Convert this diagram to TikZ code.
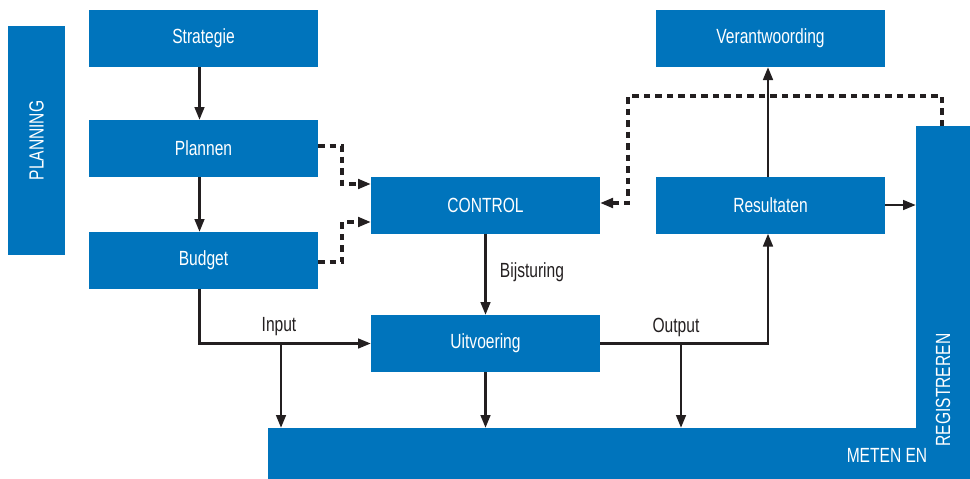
\documentclass[tikz,border=0pt]{standalone}
\usepackage{fontspec}
\setmainfont[FakeStretch=0.76]{Liberation Sans}
\usetikzlibrary{arrows.meta}
\definecolor{boxblue}{RGB}{0,116,188}
\definecolor{ink}{RGB}{35,31,32}
\begin{document}
\begin{tikzpicture}[x=1pt,y=-1pt,
  txt/.style={font=\fontsize{20.5}{22}\selectfont},
  box/.style={txt, fill=boxblue, text=white, inner sep=0pt, outer sep=0pt,
    minimum width=229pt, minimum height=57pt},
  bar/.style={fill=boxblue, inner sep=0pt, outer sep=0pt, anchor=north west},
  arr/.style={line width=2.9pt, draw=ink, -{Triangle[length=13pt,width=9.5pt]}},
  darr/.style={arr, line width=3.3pt, dash pattern=on 6.5pt off 5pt},
  lbl/.style={txt, inner sep=0pt, text=ink}]
\useasboundingbox (0,0) rectangle (970,479);

% planning column
\node[box, rotate=90] (planning) at (36.5,140.5) {PLANNING};
\node[box] (strat) at (203.5,38.5) {Strategie};
\node[box] (plan) at (203.5,148.5) {Plannen};
\node[box] (budget) at (203.5,260.5) {Budget};

% control and execution
\node[box] (control) at (485.5,205) {CONTROL};
\node[box] (uitv) at (485.5,343.5) {Uitvoering};
\node[box] (resul) at (770.5,205) {Resultaten};
\node[box] (verant) at (770.5,38.5) {Verantwoording};

% measuring and registering (L-shaped band)
\node[bar, minimum width=702pt, minimum height=51pt] (meten) at (268,428) {};
\node[bar, minimum width=54pt, minimum height=353pt] (reg) at (916,126) {};
\node[txt, text=white, inner sep=0pt] (metentxt) at (887,455) {METEN EN};
\node[txt, text=white, inner sep=0pt, rotate=90] (regtxt) at (943,390) {REGISTREREN};

% planning chain
\draw[arr] ([xshift=-4pt]strat.south) -- ([xshift=-4pt]plan.north);
\draw[arr] ([xshift=-4pt]plan.south) -- ([xshift=-4pt]budget.north);
\draw[darr] ([yshift=2.5pt]plan.east) -- ++(24,0) |- ([yshift=21pt]control.west);
\draw[darr] ([yshift=-1.5pt]budget.east) -- ++(24,0) |- ([yshift=-17pt]control.west);

% input
\draw[arr] ([xshift=-4pt]budget.south) |- (uitv.west);
\coordinate (inbr) at (281,343.5);
\draw[arr] (inbr) -- (inbr |- meten.north);
\node[lbl] (inputlbl) at (279,327) {Input};

% steering
\draw[arr] (control.south) -- (uitv.north);
\node[lbl] (bijlbl) at (532,272) {Bijsturing};
\draw[arr] (uitv.south) -- (uitv.south |- meten.north);

% output
\draw[arr] (uitv.east) -| ([xshift=-2.5pt]resul.south);
\coordinate (outbr) at (681,343.5);
\draw[arr] (outbr) -- (outbr |- meten.north);
\node[lbl] (outputlbl) at (676,327) {Output};

% results
\draw[arr] ([xshift=-2.5pt]resul.north) -- ([xshift=-2.5pt]verant.south);
\draw[arr] (resul.east) -- (resul.east -| reg.west);
\coordinate (fbtop) at (628,96);
\draw[darr] ([xshift=-1pt]reg.north) |- (fbtop) |- ([yshift=2pt]control.east);
\end{tikzpicture}
\end{document}
